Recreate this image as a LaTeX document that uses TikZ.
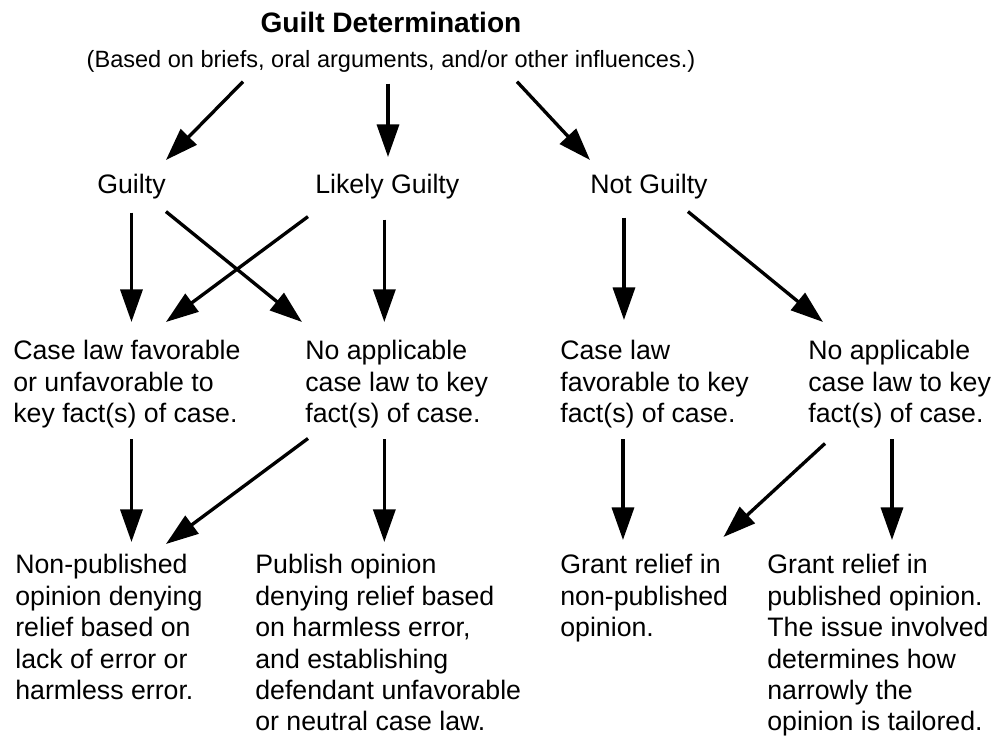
\documentclass[tikz,border=0pt]{standalone}
\usepackage{fontspec}
\setmainfont{Liberation Sans}
\usetikzlibrary{arrows.meta,positioning,calc}

\begin{document}
\begin{tikzpicture}[x=0.02cm, y=-0.02cm,
    txt/.style={anchor=north west, align=left, inner sep=0pt,
                font=\fontsize{15.2pt}{17.9pt}\selectfont},
    arr/.style={line width=1.9pt, -{Triangle[length=18.5pt, width=12.5pt]}}]
    \useasboundingbox (0,0) rectangle (1005,736);
    % heading
    \node[inner sep=0pt, anchor=north,
          font=\fontsize{16pt}{19pt}\selectfont\bfseries] (title) at (391,12)
         {Guilt Determination};
    \node[txt, anchor=north, font=\fontsize{13.4pt}{16pt}\selectfont] (sub) at (391,50)
         {(Based on briefs, oral arguments, and/or other influences.)};
    % verdicts
    \node[txt] (guilty) at (97,174) {Guilty};
    \node[txt] (likely) at (315,174) {Likely Guilty};
    \node[txt] (notg) at (590,174) {Not Guilty};
    % case law
    \node[txt] (favor) at (13,340)
         {Case law favorable\\or unfavorable to\\key fact(s) of case.};
    \node[txt] (noapp) at (305,340)
         {No applicable\\case law to key\\fact(s) of case.};
    \node[txt] (favng) at (560,340)
         {Case law\\favorable to key\\fact(s) of case.};
    \node[txt] (noappng) at (808,340)
         {No applicable\\case law to key\\fact(s) of case.};
    % outcomes
    \node[txt] (deny) at (15,554)
         {Non-published\\opinion denying\\relief based on\\lack of error or\\harmless error.};
    \node[txt] (publish) at (255,554)
         {Publish opinion\\denying relief based\\on harmless error,\\and establishing\\defendant unfavorable\\or neutral case law.};
    \node[txt] (grant) at (560,554)
         {Grant relief in\\non-published\\opinion.};
    \node[txt] (grantpub) at (767,554)
         {Grant relief in\\published opinion.\\The issue involved\\determines how\\narrowly the\\opinion is tailored.};
    % heading to verdicts
    \draw[arr] ($(sub.south)+(-148,9)$) -- ($(guilty.north east)+(0,-14)$);
    \draw[arr] ($(sub.south)+(-3,11)$) -- ($(sub.south |- likely.north)+(-3,-17)$);
    \draw[arr] ($(sub.south)+(126,9)$) -- ($(notg.north west)+(0,-14)$);
    % verdicts to case law
    \draw[arr] ($(guilty.south)+(0,13)$) -- ($(guilty.south |- favor.north)+(0,-18)$);
    \draw[arr] ($(guilty.south east)+(0,12)$) -- ($(noapp.north west)+(-3,-18)$);
    \draw[arr] ($(likely.south west)+(-7,17)$) -- ($(guilty.south east |- favor.north)+(0,-18)$);
    \draw[arr] ($(likely.south)+(-3,20)$) -- ($(likely.south |- noapp.north)+(-3,-18)$);
    \draw[arr] ($(notg.south)+(-25,18)$) -- ($(notg.south |- favng.north)+(-25,-20)$);
    \draw[arr] ($(notg.south east)+(-20,12)$) -- ($(noappng.north west)+(15,-18)$);
    % case law to outcomes
    \draw[arr] ($(favor.south -| guilty.south)+(0,11)$) -- ($(deny.north -| guilty.south)+(0,-12)$);
    \draw[arr] ($(noapp.south west)+(3,10)$) -- ($(deny.north -| guilty.south east)+(0,-10)$);
    \draw[arr] ($(noapp.south -| likely.south)+(-3,11)$) -- ($(publish.north -| likely.south)+(-3,-12)$);
    \draw[arr] ($(favng.south -| notg.south)+(-26,11)$) -- ($(grant.north -| notg.south)+(-26,-14)$);
    \draw[arr] ($(noappng.south west)+(17,15)$) -- ($(grant.north east)+(-5,-17)$);
    \draw[arr] ($(noappng.south west)+(84,11)$) -- ($(grantpub.north -| noappng.south west)+(84,-14)$);
\end{tikzpicture}
\end{document}
